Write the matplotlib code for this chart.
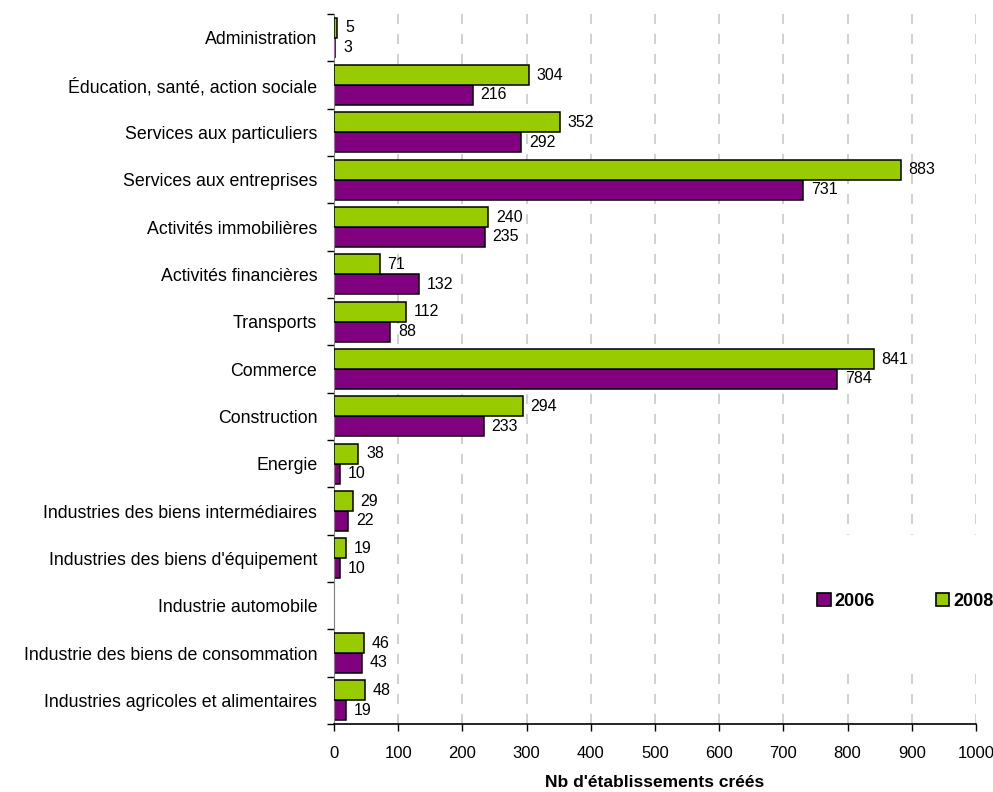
import matplotlib
matplotlib.use("Agg")
import matplotlib.pyplot as plt
import numpy as np
from matplotlib.patches import Patch, Rectangle

plt.rcParams['font.family'] = ['Liberation Sans', 'DejaVu Sans']

categories = ["Administration", "Éducation, santé, action sociale", "Services aux particuliers",
              "Services aux entreprises", "Activités immobilières", "Activités financières",
              "Transports", "Commerce", "Construction", "Energie",
              "Industries des biens intermédiaires", "Industries des biens d'équipement",
              "Industrie automobile", "Industrie des biens de consommation",
              "Industries agricoles et alimentaires"]
v2006 = [3, 216, 292, 731, 235, 132, 88, 784, 233, 10, 22, 10, None, 43, 19]
v2008 = [5, 304, 352, 883, 240, 71, 112, 841, 294, 38, 29, 19, None, 46, 48]
years = ["2006", "2008"]
xticks = list(range(0, 1001, 100))

c2006 = "#800080"
c2008 = "#99CC00"

W, H = 993, 792
fig = plt.figure(figsize=(W/100, H/100), dpi=100)
ax = fig.add_axes([334/W, 1-724/H, (976-334)/W, (724-14)/H])

n = len(categories)
pos = np.arange(n)  # 0 at top
h = 0.42
for i in range(n):
    if v2008[i] is not None:
        ax.barh(pos[i] - h/2, v2008[i], height=h, color=c2008, edgecolor="black", linewidth=1.1, zorder=3)
        ax.text(v2008[i] + 12, pos[i] - h/2, str(v2008[i]), va="center", ha="left", fontsize=11.5)
    if v2006[i] is not None:
        ax.barh(pos[i] + h/2, v2006[i], height=h, color=c2006, edgecolor="black",
                linewidth=1.1 if v2006[i] > 4 else 0, zorder=1.5)
        ax.text(v2006[i] + 12, pos[i] + h/2, str(v2006[i]), va="center", ha="left", fontsize=11.5)

ax.set_ylim(n - 0.5, -0.5)
ax.set_xlim(0, 1000)
ax.set_yticks(pos)
ax.set_yticklabels(categories, fontsize=12.8)
ax.tick_params(axis="y", which="major", length=0, pad=12)
ax.set_yticks(np.arange(-0.5, n, 1), minor=True)
ax.tick_params(axis="y", which="minor", length=5, width=1, direction="out", color="black")
ax.set_xticks(xticks)
ax.set_xticklabels([str(t) for t in xticks], fontsize=12)
ax.tick_params(axis="x", length=5, width=1, direction="out", pad=11)

for s in ["top", "right"]:
    ax.spines[s].set_visible(False)
ax.spines["left"].set_color("#808080")
ax.spines["left"].set_zorder(2)
ax.spines["bottom"].set_color("black")
ax.spines["bottom"].set_linewidth(1.2)

ax.xaxis.grid(True, linestyle=(0, (6, 6)), color="#c8c8c8", linewidth=1.2, zorder=0)
ax.set_axisbelow(True)

ax.set_xlabel("Nb d'établissements créés", fontsize=12.5, fontweight="bold", labelpad=10)

# white legend area covering the grid
fig.patches.append(Rectangle((805/W, 1-673/H), (W-805)/W, (673-535)/H, transform=fig.transFigure,
                             facecolor="white", edgecolor="none", zorder=1))

handles = [Patch(facecolor=c2006, edgecolor="black", linewidth=1.2, label=years[0]),
           Patch(facecolor=c2008, edgecolor="black", linewidth=1.2, label=years[1])]
fs = 13
leg = fig.legend(handles=handles, loc="center left", bbox_to_anchor=((817 - 0.3*fs*100/72)/W, 1-601/H),
                 ncol=2, frameon=False, prop={"weight": "bold", "size": fs},
                 handlelength=0.75, handleheight=0.75, handletextpad=0.2, columnspacing=3.4,
                 borderpad=0.3, borderaxespad=0)
leg.set_zorder(10)

fig.savefig("out.png", dpi=100)
